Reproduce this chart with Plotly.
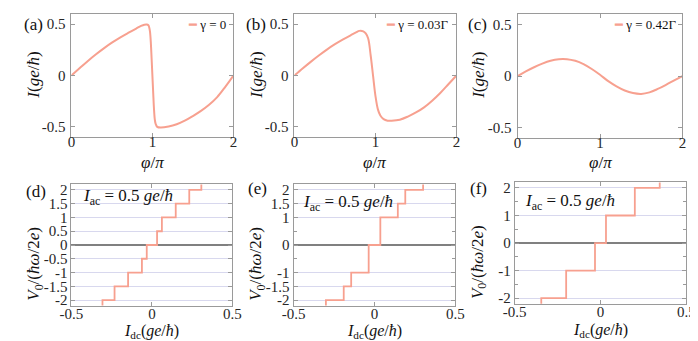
import plotly.graph_objects as go

W, H = 698, 341
SALMON = "#F7A08F"
AXC = "#9A9A9A"
GRID = "#D8D8EE"
FONT = "Liberation Serif"

# ---- top row: current-phase relation ----
phi_a = [0, 0.1, 0.2, 0.3, 0.4, 0.5, 0.6, 0.7, 0.8, 0.86, 0.9, 0.93, 0.95, 0.96, 0.97,
         0.98, 0.99, 1.0, 1.01, 1.02, 1.03, 1.04, 1.06, 1.1, 1.2, 1.3, 1.4, 1.5, 1.6,
         1.7, 1.8, 1.9, 2.0]
cur_a = [0, 0.07, 0.14, 0.205, 0.265, 0.32, 0.37, 0.415, 0.458, 0.483, 0.495, 0.497, 0.49,
         0.47, 0.43, 0.33, 0.17, 0.0, -0.17, -0.33, -0.43, -0.47, -0.5, -0.507, -0.497,
         -0.475, -0.44, -0.395, -0.345, -0.285, -0.21, -0.11, 0]

phi_b = [0, 0.1, 0.2, 0.3, 0.4, 0.5, 0.6, 0.7, 0.76, 0.8, 0.85, 0.88, 0.91, 0.94, 0.97,
         1.0, 1.03, 1.06, 1.1, 1.15, 1.2, 1.3, 1.4, 1.5, 1.6, 1.7, 1.8, 1.9, 2.0]
cur_b = [0, 0.068, 0.133, 0.195, 0.253, 0.305, 0.352, 0.395, 0.42, 0.435, 0.43, 0.41, 0.36,
         0.2, 0.0, -0.2, -0.33, -0.39, -0.425, -0.44, -0.44, -0.43, -0.4, -0.36, -0.31,
         -0.245, -0.17, -0.085, 0]

phi_c = [0, 0.1, 0.2, 0.3, 0.4, 0.5, 0.6, 0.7, 0.8, 0.9, 1.0, 1.1, 1.2, 1.3, 1.4, 1.5,
         1.6, 1.7, 1.8, 1.9, 2.0]
cur_c = [0, 0.045, 0.085, 0.12, 0.148, 0.163, 0.163, 0.147, 0.115, 0.068, 0.012, -0.05,
         -0.1, -0.14, -0.165, -0.173, -0.158, -0.125, -0.085, -0.042, 0]

gamma_labels = ["γ = 0", "γ = 0.03Γ", "γ = 0.42Γ"]

# ---- bottom row: Shapiro steps (current where each new step starts, step level) ----
idc_d = [-0.5, -0.307, -0.232, -0.148, -0.062, -0.032, 0.032, 0.062, 0.148, 0.232, 0.307]
v0_d = [-2.5, -2, -1.5, -1, -0.5, 0, 0.5, 1, 1.5, 2, 2.5]

idc_e = [-0.5, -0.3, -0.19, -0.144, -0.036, 0.036, 0.144, 0.19, 0.3]
v0_e = [-2.5, -2, -1.5, -1, 0, 1, 1.5, 2, 2.5]

idc_f = [-0.5, -0.345, -0.2, -0.032, 0.032, 0.2, 0.345]
v0_f = [-2.5, -2, -1, 0, 1, 2, 2.5]

yt_d = [-2, -1.5, -1, -0.5, 0, 0.5, 1, 1.5, 2]
yt_e = [-2, -1.5, -1, 0, 1, 1.5, 2]
yt_f = [-2, -1, 0, 1, 2]


def px_x(p):
    return p / W


def px_y(p):
    return 1 - p / H


# panel boxes in pixels: (left, right, top, bottom)
boxes = [
    (53, 220, 4, 129),
    (283, 450, 4, 129),
    (513, 683, 4, 130),
    (53, 219, 177, 300),
    (282, 449, 177, 300),
    (510, 687, 175, 298),
]

fig = go.Figure()

top = [(phi_a, cur_a), (phi_b, cur_b), (phi_c, cur_c)]
for i, (xx, yy) in enumerate(top):
    n = "" if i == 0 else str(i + 1)
    fig.add_trace(go.Scatter(x=xx, y=yy, mode="lines",
                             line=dict(color=SALMON, width=2, shape="spline", smoothing=1.0),
                             xaxis="x" + n, yaxis="y" + n, showlegend=False, hoverinfo="skip"))

bottom = [(idc_d, v0_d), (idc_e, v0_e), (idc_f, v0_f)]
for i, (xx, yy) in enumerate(bottom):
    n = str(i + 4)
    fig.add_trace(go.Scatter(x=xx, y=yy, mode="lines", line=dict(color=SALMON, width=1.8, shape="hv"),
                             xaxis="x" + n, yaxis="y" + n, showlegend=False, hoverinfo="skip"))

tickfont = dict(family=FONT, size=15, color="#262626")
common = dict(showline=True, linecolor=AXC, linewidth=1, mirror="ticks", ticks="inside",
              ticklen=4, tickcolor=AXC, tickfont=tickfont, zeroline=False, showgrid=False,
              fixedrange=True)

layout = {}
for i, (l, r, t, b) in enumerate(boxes):
    n = "" if i == 0 else str(i + 1)
    xd = [px_x(l), px_x(r)]
    yd = [px_y(b), px_y(t)]
    if i < 3:
        xa = dict(common, domain=xd, range=[0, 2], tickvals=[0, 1, 2], ticktext=["0", "1", "2"],
                  anchor="y" + n, ticklabelstandoff=-9)
        ya = dict(common, domain=yd, range=[-0.6, 0.6], tickvals=[-0.5, 0, 0.5],
                  ticktext=["-0.5", "0", "0.5"], anchor="x" + n, ticklabelstandoff=2)
    else:
        yt = [yt_d, yt_e, yt_f][i - 3]
        xa = dict(common, domain=xd, range=[-0.5, 0.5], tickvals=[-0.5, 0, 0.5],
                  ticktext=["-0.5", "0", "0.5"], anchor="y" + n, ticklabelstandoff=-6)
        ya = dict(common, domain=yd, range=[-2.2, 2.2], tickvals=yt, ticktext=["%g" % v for v in yt],
                  anchor="x" + n, showgrid=True, gridcolor=GRID, gridwidth=1,
                  zeroline=True, zerolinecolor="#808080", zerolinewidth=1.5,
                  ticklabelstandoff=0)
        if i > 3:
            ya["minor"] = dict(dtick=0.5, tick0=0, ticks="inside", ticklen=3, tickcolor=AXC, showgrid=False)
    layout["xaxis" + n] = xa
    layout["yaxis" + n] = ya

annotations = []


def note(text, x, y, size=15, xanchor="center", angle=0, **kw):
    annotations.append(dict(text=text, x=px_x(x), y=px_y(y), xref="paper", yref="paper",
                            showarrow=False, xanchor=xanchor, yanchor="middle", textangle=angle,
                            font=dict(family=FONT, size=size, color="#111111"), **kw))


# panel letters
for lab, x, y in [("(a)", 14, 15), ("(b)", 243, 15), ("(c)", 472, 15),
                  ("(d)", 17, 184), ("(e)", 245, 181), ("(f)", 473, 181)]:
    note(lab, x, y, size=17)

# axis titles
for x in [13, 243, 472]:
    note("<i>I</i>(<i>ge</i>/<i>ħ</i>)", x, 66, size=17, angle=-90)
for x in [137, 366, 598]:
    note("<i>φ</i>/<i>π</i>", x, 155, size=17)
for x, y in [(16, 258), (245, 258), (473, 256)]:
    note("<i>V</i><sub>0</sub>/(<i>ħω</i>/2<i>e</i>)", x, y, size=17, angle=-90)
for x, y in [(136, 326), (365, 326), (598, 325)]:
    note("<i>I</i><sub>dc</sub>(<i>ge</i>/<i>ħ</i>)", x, y, size=16)

# legends
for lab, xr in zip(gamma_labels, [214, 444, 679]):
    note("<span style='color:%s'>━</span> %s" % (SALMON, lab), xr, 15, size=13, xanchor="right")

# I_ac labels
for x, y in [(63, 190), (290, 196), (519, 195)]:
    note("<i>I</i><sub>ac</sub> = 0.5 <i>ge</i>/<i>ħ</i>", x, y, size=17, xanchor="left")

fig.update_layout(width=W, height=H, margin=dict(l=0, r=0, t=0, b=0),
                  paper_bgcolor="white", plot_bgcolor="white",
                  font=dict(family=FONT),
                  annotations=annotations, showlegend=False, **layout)

fig.write_html("out.html")
